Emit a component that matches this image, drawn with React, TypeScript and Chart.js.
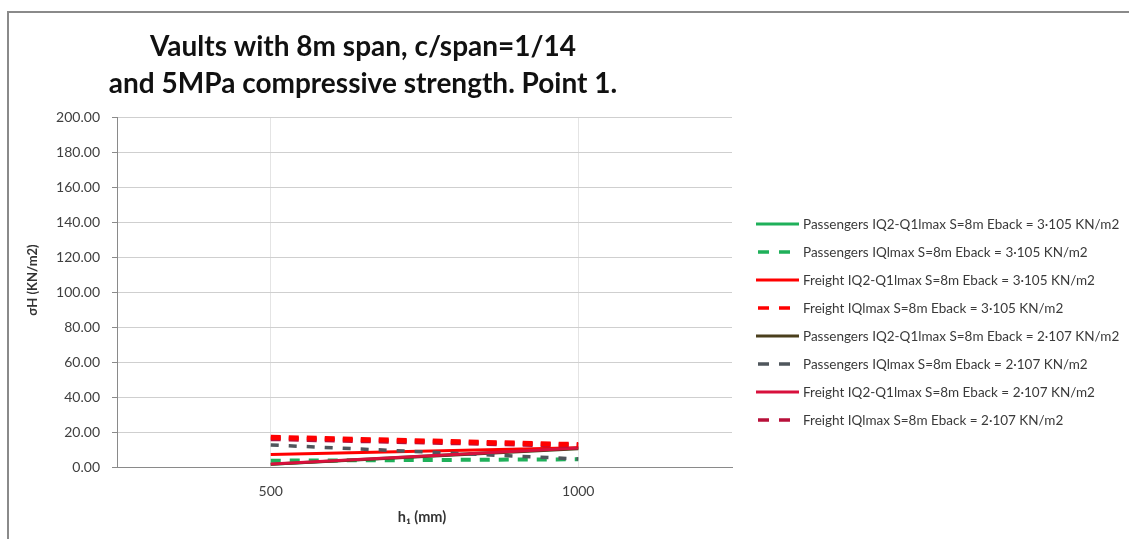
import React, { useEffect, useRef } from "react";
import { Chart, registerables } from "chart.js";

Chart.register(...registerables);

const TITLE_LINES = ["Vaults with 8m span, c/span=1/14", "and 5MPa compressive strength. Point 1."];
const X_TITLE = "h\u2081 (mm)";
const Y_TITLE = "\u03C3H (KN/m2)";

const H_VALUES = [500, 1000];
const X_TICKS = [500, 1000];

const SERIES_NAMES = [
  "Passengers IQ2-Q1lmax S=8m Eback = 3\u00B7105 KN/m2",
  "Passengers IQlmax S=8m Eback = 3\u00B7105 KN/m2",
  "Freight IQ2-Q1lmax S=8m Eback = 3\u00B7105 KN/m2",
  "Freight IQlmax S=8m Eback = 3\u00B7105 KN/m2",
  "Passengers IQ2-Q1lmax S=8m Eback = 2\u00B7107 KN/m2",
  "Passengers IQlmax S=8m Eback = 2\u00B7107 KN/m2",
  "Freight IQ2-Q1lmax S=8m Eback = 2\u00B7107 KN/m2",
  "Freight IQlmax S=8m Eback = 2\u00B7107 KN/m2",
];

const PASS_IQ2_3E5 = [1.6, 10.8];
const PASS_IQ_3E5 = [3.6, 4.4];
const FREIGHT_IQ2_3E5 = [7.2, 11.0];
const FREIGHT_IQ_3E5 = [17.0, 12.8];
const PASS_IQ2_2E7 = [1.5, 10.4];
const PASS_IQ_2E7 = [12.6, 4.6];
const FREIGHT_IQ2_2E7 = [1.7, 10.8];
const FREIGHT_IQ_2E7 = [16.2, 12.3];

const SERIES_VALUES = [
  PASS_IQ2_3E5,
  PASS_IQ_3E5,
  FREIGHT_IQ2_3E5,
  FREIGHT_IQ_3E5,
  PASS_IQ2_2E7,
  PASS_IQ_2E7,
  FREIGHT_IQ2_2E7,
  FREIGHT_IQ_2E7,
];

const COLORS = ["#1fb05a", "#1fb05a", "#ff0000", "#ff0000", "#4a3f1c", "#4f565c", "#d8103c", "#b8103a"];
const WIDTHS = [3, 4, 3, 5, 3, 3.5, 3, 5];
const DASHES: number[][] = [[], [10, 9], [], [10, 8], [], [8, 10], [], [10, 8]];
const DRAW_ORDER = [8, 7, 6, 1, 5, 4, 3, 2];

const FONT = "Lato, 'Open Sans', 'DejaVu Sans', sans-serif";

export default function App() {
  const ref = useRef<HTMLCanvasElement | null>(null);

  useEffect(() => {
    if (!ref.current) return;
    const textPlugin = {
      id: "texts",
      afterDraw(chart: any) {
        const ctx = chart.ctx as CanvasRenderingContext2D;
        ctx.save();
        // title
        ctx.fillStyle = "#111111";
        ctx.font = `bold 28px ${FONT}`;
        ctx.textAlign = "center";
        ctx.textBaseline = "middle";
        ctx.fillText(TITLE_LINES[0], 354, 34);
        ctx.fillText(TITLE_LINES[1], 354, 71);
        // x title
        ctx.font = `bold 14.5px ${FONT}`;
        ctx.fillStyle = "#333333";
        ctx.fillText(X_TITLE, 413, 504);
        // y title
        ctx.save();
        ctx.translate(24, 267);
        ctx.rotate(-Math.PI / 2);
        ctx.font = `bold 13px ${FONT}`;
        ctx.fillText(Y_TITLE, 0, 0);
        ctx.restore();
        // legend
        ctx.textAlign = "left";
        ctx.font = `13.5px ${FONT}`;
        SERIES_NAMES.forEach((name, i) => {
          const y = 211 + i * 28;
          ctx.save();
          ctx.strokeStyle = COLORS[i];
          ctx.lineWidth = Math.min(WIDTHS[i], 3.5);
          ctx.setLineDash(DASHES[i].length ? [11, 10] : []);
          ctx.lineDashOffset = DASHES[i].length ? -2 : 0;
          ctx.beginPath();
          ctx.moveTo(747, y);
          ctx.lineTo(790, y);
          ctx.stroke();
          ctx.restore();
          ctx.fillStyle = "#3a3a3a";
          ctx.fillText(name, 794, y + 1);
        });
        ctx.restore();
      },
    };

    const chart = new Chart(ref.current, {
      type: "line",
      data: {
        datasets: SERIES_NAMES.map((name, i) => ({
          label: name,
          data: H_VALUES.map((h, j) => ({ x: h, y: SERIES_VALUES[i][j] })),
          borderColor: COLORS[i],
          backgroundColor: COLORS[i],
          borderWidth: WIDTHS[i],
          borderDash: DASHES[i],
          pointRadius: 0,
          fill: false,
          tension: 0,
          order: DRAW_ORDER[i],
        })),
      },
      options: {
        animation: false,
        responsive: false,
        layout: { padding: { left: 8, right: 397, top: 104, bottom: 12 } },
        plugins: { legend: { display: false }, title: { display: false }, tooltip: { enabled: false } },
        scales: {
          x: {
            type: "linear",
            min: 250,
            max: 1250,
            afterBuildTicks: (axis: any) => {
              axis.ticks = X_TICKS.map((v) => ({ value: v }));
            },
            afterFit: (axis: any) => {
              axis.height = 60;
            },
            grid: { color: "#e4e4e4", lineWidth: 1, drawTicks: false },
            border: { color: "#8a8a8a", width: 1 },
            ticks: {
              padding: 16,
              color: "#404040",
              font: { family: FONT, size: 14 },
              maxRotation: 0,
              callback: (v: any) => String(v),
            },
          },
          y: {
            min: 0,
            max: 200,
            afterFit: (axis: any) => {
              axis.width = 100;
            },
            grid: {
              color: "#cfcfcf",
              lineWidth: 1,
              borderDash: [2, 3],
              tickLength: 5,
              tickColor: "#8a8a8a",
              tickBorderDash: [],
            },
            border: { color: "#8a8a8a", width: 1 },
            ticks: {
              stepSize: 20,
              padding: 12,
              color: "#404040",
              font: { family: FONT, size: 14 },
              callback: (v: any) => Number(v).toFixed(2),
            },
          },
        },
      },
      plugins: [textPlugin],
    } as any);
    return () => chart.destroy();
  }, []);

  return (
    <div
      style={{
        position: "absolute",
        left: 7,
        top: 11,
        width: 1122,
        height: 528,
        borderTop: "2px solid #8a8a8a",
        borderLeft: "2px solid #8a8a8a",
        boxSizing: "border-box",
        background: "#ffffff",
      }}
    >
      <canvas ref={ref} width={1120} height={526} style={{ display: "block" }} />
    </div>
  );
}
